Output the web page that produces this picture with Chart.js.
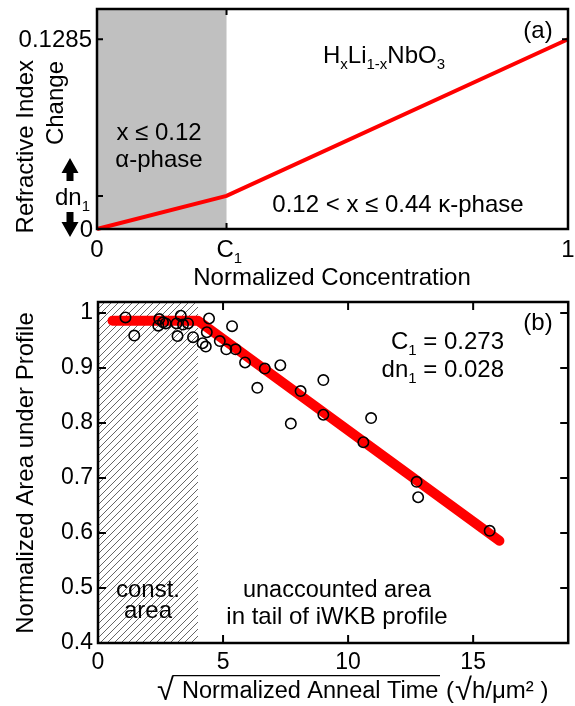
<!DOCTYPE html>
<html>
<head>
<meta charset="utf-8">
<script src="https://cdn.jsdelivr.net/npm/chart.js@4/dist/chart.umd.min.js"></script>
<style>
  html, body { margin: 0; padding: 0; background: #fff; overflow: hidden; }
  #wrap { position: relative; width: 575px; height: 706px; }
  canvas { position: absolute; left: 0; }
  #panel-a { top: 0; }
  #panel-b { top: 270px; }
</style>
</head>
<body>
<div id="wrap">
  <canvas id="panel-a" width="575" height="290"></canvas>
  <canvas id="panel-b" width="575" height="436"></canvas>
</div>
<script>
// panel (a): index change vs normalized concentration
const concA = [0, 0.275, 1];
const indexA = [0, 0.0224, 0.1285];
const xTicksA = [0, 0.275, 1];
const yTicksA = [0, 0.0224, 0.1285];

// panel (b): normalized area vs sqrt anneal time
const annealT = [1.10, 1.45, 2.45, 2.41, 2.60, 2.71, 3.14, 3.31, 3.18, 3.40, 3.60, 3.80,
    4.18, 4.31, 4.44, 4.35, 4.87, 5.36, 5.13, 5.50, 5.88, 6.67, 6.37, 7.29, 8.10, 7.71,
    9.01, 9.01, 10.92, 10.61, 12.74, 12.80, 15.66];
const areaVals = [0.992, 0.959, 0.989, 0.977, 0.983, 0.981, 0.981, 0.995, 0.958, 0.979, 0.981, 0.956,
    0.945, 0.939, 0.990, 0.965, 0.949, 0.976, 0.934, 0.934, 0.910, 0.899, 0.864, 0.905, 0.858, 0.799,
    0.878, 0.815, 0.809, 0.765, 0.693, 0.665, 0.604];
const fitT = [0.58, 4.0, 16.05];
const fitArea = [0.986, 0.986, 0.586];
const constAreaEnd = 4;
const xTicksB = [0, 5, 10, 15];
const yTicksB = [0.4, 0.5, 0.6, 0.7, 0.8, 0.9, 1];

const FAMILY = '"Liberation Sans", Arial, Helvetica, sans-serif';
const FS = 24;
const SUB = 15;
const font = (s) => s + 'px ' + FAMILY;

// draws text made of normal / subscript parts
const drawRich = (ctx, parts, x, y, align) => {
    const widths = parts.map(([t, k]) => {
        ctx.font = font(k === 'n' ? FS : SUB);
        return ctx.measureText(t).width;
    });
    const total = widths.reduce((a, b) => a + b, 0);
    let cx = align === 'center' ? x - total / 2 : align === 'right' ? x - total : x;
    ctx.textAlign = 'left';
    ctx.textBaseline = 'alphabetic';
    parts.forEach(([t, k], i) => {
        ctx.font = font(k === 'n' ? FS : SUB);
        ctx.fillText(t, cx, k === 's' ? y + 6 : y);
        cx += widths[i];
    });
    return total;
};

const text = (ctx, t, x, y, align, size) => {
    ctx.font = font(size || FS);
    ctx.textAlign = align || 'left';
    ctx.textBaseline = 'alphabetic';
    ctx.fillText(t, x, y);
    return ctx.measureText(t).width;
};

const vText = (ctx, t, x, y, align) => {
    ctx.save();
    ctx.translate(x, y);
    ctx.rotate(-Math.PI / 2);
    text(ctx, t, 0, 0, align);
    ctx.restore();
};

// radical sign sized so it spans `top` .. `bottom`; returns its box
const radical = (ctx, x, top, bottom) => {
    ctx.font = font(100);
    const m = ctx.measureText('\u221a');
    const h100 = m.actualBoundingBoxAscent + m.actualBoundingBoxDescent;
    const size = 100 * (bottom - top) / h100;
    ctx.font = font(size);
    const mm = ctx.measureText('\u221a');
    const base = top + mm.actualBoundingBoxAscent;
    ctx.textAlign = 'left';
    ctx.textBaseline = 'alphabetic';
    ctx.fillText('\u221a', x - mm.actualBoundingBoxLeft, base);
    return { right: x + mm.actualBoundingBoxLeft + mm.actualBoundingBoxRight, top };
};

const drawFrame = (ctx, area) => {
    ctx.save();
    ctx.strokeStyle = '#000';
    ctx.lineWidth = 2.5;
    ctx.strokeRect(area.left, area.top, area.right - area.left, area.bottom - area.top);
    ctx.restore();
};

const arrow = (ctx, x, tipY, baseY, endY) => {
    ctx.beginPath();
    ctx.moveTo(x, tipY);
    ctx.lineTo(x + 8.5, baseY);
    ctx.lineTo(x + 3.5, baseY);
    ctx.lineTo(x + 3.5, endY);
    ctx.lineTo(x - 3.5, endY);
    ctx.lineTo(x - 3.5, baseY);
    ctx.lineTo(x - 8.5, baseY);
    ctx.closePath();
    ctx.fill();
};

const panelAPlugin = {
    id: 'panelA',
    beforeDatasetsDraw(chart) {
        const { ctx, chartArea: a, scales: { x } } = chart;
        ctx.save();
        ctx.fillStyle = '#c0c0c0';
        ctx.fillRect(a.left, a.top, x.getPixelForValue(concA[1]) - a.left, a.bottom - a.top);
        ctx.restore();
    },
    afterDraw(chart) {
        const { ctx, chartArea: a, scales: { x, y } } = chart;
        drawFrame(ctx, a);
        ctx.save();
        ctx.fillStyle = '#000';
        ctx.strokeStyle = '#000';
        ctx.lineWidth = 2;
        // inward ticks
        ctx.beginPath();
        const xc = x.getPixelForValue(xTicksA[1]);
        ctx.moveTo(xc, a.bottom); ctx.lineTo(xc, a.bottom - 6);
        ctx.moveTo(xc, a.top); ctx.lineTo(xc, a.top + 6);
        [yTicksA[1], yTicksA[2]].forEach(v => {
            const py = y.getPixelForValue(v);
            ctx.moveTo(a.left, py); ctx.lineTo(a.left + 6, py);
        });
        const pr = y.getPixelForValue(yTicksA[2]);
        ctx.moveTo(a.right, pr); ctx.lineTo(a.right - 6, pr);
        ctx.stroke();

        // tick labels
        text(ctx, '0.1285', a.left - 5, y.getPixelForValue(yTicksA[2]) + 8, 'right');
        text(ctx, '0', a.left - 4, y.getPixelForValue(yTicksA[0]) + 8, 'right');
        const pdn = y.getPixelForValue(yTicksA[1]);
        drawRich(ctx, [['dn', 'n'], ['1', 's']], 55, pdn + 9, 'left');
        arrow(ctx, 70, pdn - 38, pdn - 23, pdn - 15);
        arrow(ctx, 70, pdn + 41, pdn + 26, pdn + 16);

        const tb = a.bottom + 28;
        text(ctx, '0', x.getPixelForValue(xTicksA[0]), tb, 'center');
        drawRich(ctx, [['C', 'n'], ['1', 's']], xc - 10, tb, 'left');
        text(ctx, '1', x.getPixelForValue(xTicksA[2]), tb, 'center');

        // axis titles
        text(ctx, 'Normalized Concentration', 332, 285, 'center');
        vText(ctx, 'Refractive Index', 33, 60, 'right');
        vText(ctx, 'Change', 63, 61, 'right');

        // annotations
        text(ctx, '(a)', 538, 38, 'center');
        drawRich(ctx, [['H', 'n'], ['x', 's'], ['Li', 'n'], ['1-x', 's'], ['NbO', 'n'], ['3', 's']], 323, 63, 'left');
        text(ctx, 'x \u2264 0.12', 159, 140, 'center');
        text(ctx, '\u03b1-phase', 159, 167, 'center');
        text(ctx, '0.12 < x \u2264 0.44 \u03ba-phase', 398, 212, 'center');
        ctx.restore();
    }
};

const panelBPlugin = {
    id: 'panelB',
    beforeDatasetsDraw(chart) {
        const { ctx, chartArea: a, scales: { x } } = chart;
        const xr = x.getPixelForValue(constAreaEnd);
        const h = a.bottom - a.top;
        ctx.save();
        ctx.beginPath();
        ctx.rect(a.left, a.top, xr - a.left, h);
        ctx.clip();
        ctx.strokeStyle = '#555';
        ctx.lineWidth = 0.9;
        ctx.beginPath();
        for (let k = -h; k < xr - a.left + 7; k += 7) {
            ctx.moveTo(a.left + k, a.bottom);
            ctx.lineTo(a.left + k + h, a.top);
        }
        ctx.stroke();
        ctx.restore();
    },
    afterDraw(chart) {
        const { ctx, chartArea: a, scales: { x, y } } = chart;
        drawFrame(ctx, a);
        ctx.save();
        ctx.strokeStyle = '#000';
        ctx.fillStyle = '#000';
        ctx.lineWidth = 2;
        ctx.beginPath();
        xTicksB.slice(1).forEach(v => {
            const px = x.getPixelForValue(v);
            ctx.moveTo(px, a.bottom); ctx.lineTo(px, a.bottom - 8);
            ctx.moveTo(px, a.top); ctx.lineTo(px, a.top + 8);
        });
        yTicksB.slice(1).forEach(v => {
            const py = y.getPixelForValue(v);
            ctx.moveTo(a.left, py); ctx.lineTo(a.left + 8, py);
            ctx.moveTo(a.right, py); ctx.lineTo(a.right - 8, py);
        });
        ctx.stroke();

        // y title
        vText(ctx, 'Normalized Area under Profile', 33, 203, 'center');

        // x title with root sign and overline
        const base = 428;
        const r1 = radical(ctx, 157, 405, 430);
        ctx.lineWidth = 1.3;
        ctx.beginPath();
        ctx.moveTo(r1.right - 1.5, r1.top + 0.7);
        ctx.lineTo(440, r1.top + 0.7);
        ctx.stroke();
        const w = text(ctx, 'Normalized Anneal Time', 182, base, 'left', 23.5);
        let cx = Math.max(446, 182 + w + 6);
        cx += text(ctx, '(', cx, base, 'left');
        const r2 = radical(ctx, cx + 1, 405, 430);
        cx = r2.right;
        text(ctx, 'h/\u03bcm\u00b2 )', cx, base, 'left');

        // annotations
        text(ctx, '(b)', 538, 60, 'center');
        drawRich(ctx, [['C', 'n'], ['1', 's'], [' = 0.273', 'n']], 504, 79, 'right');
        drawRich(ctx, [['dn', 'n'], ['1', 's'], [' = 0.028', 'n']], 504, 107, 'right');
        text(ctx, 'const.', 148, 327, 'center');
        text(ctx, 'area', 148, 348, 'center');
        text(ctx, 'unaccounted area', 337, 327, 'center', 23.5);
        text(ctx, 'in tail of iWKB profile', 337, 354, 'center');
        ctx.restore();
    }
};

const chartA = new Chart(document.getElementById('panel-a'), {
    type: 'scatter',
    data: {
        datasets: [{
            data: concA.map((c, i) => ({ x: c, y: indexA[i] })),
            showLine: true,
            borderColor: '#ff0000',
            borderWidth: 4,
            pointRadius: 0,
            clip: false
        }]
    },
    options: {
        responsive: false,
        animation: false,
        devicePixelRatio: 1,
        layout: { padding: { left: 0, right: 7, top: 9, bottom: 0 } },
        plugins: { legend: { display: false }, tooltip: { enabled: false } },
        scales: {
            x: {
                type: 'linear', min: 0, max: 1,
                grid: { display: false, drawTicks: false },
                border: { display: false },
                ticks: { display: false },
                afterFit: (s) => { s.height = 61; }
            },
            y: {
                type: 'linear', min: 0, max: 0.149,
                grid: { display: false, drawTicks: false },
                border: { display: false },
                ticks: { display: false },
                afterFit: (s) => { s.width = 97; }
            }
        }
    },
    plugins: [panelAPlugin]
});

const chartB = new Chart(document.getElementById('panel-b'), {
    type: 'scatter',
    data: {
        datasets: [{
            data: annealT.map((t, i) => ({ x: t, y: areaVals[i] })),
            pointRadius: 5.2,
            pointBorderWidth: 1.6,
            pointBorderColor: '#000',
            pointBackgroundColor: 'rgba(0,0,0,0)'
        }, {
            data: fitT.map((t, i) => ({ x: t, y: fitArea[i] })),
            showLine: true,
            borderColor: '#ff0000',
            borderWidth: 10,
            borderCapStyle: 'round',
            borderJoinStyle: 'round',
            pointRadius: 0
        }]
    },
    options: {
        responsive: false,
        animation: false,
        devicePixelRatio: 1,
        layout: { padding: { left: 0, right: 6, top: 32, bottom: 0 } },
        plugins: { legend: { display: false }, tooltip: { enabled: false } },
        scales: {
            x: {
                type: 'linear', min: 0, max: 18.8,
                grid: { display: false, drawTicks: false },
                border: { display: false },
                afterBuildTicks: (s) => { s.ticks = xTicksB.map(v => ({ value: v })); },
                ticks: {
                    color: '#000', padding: 6, maxRotation: 0,
                    font: { family: FAMILY, size: 23 },
                    callback: (v) => String(v)
                },
                afterFit: (s) => { s.height = 63; }
            },
            y: {
                type: 'linear', min: 0.4, max: 1.02,
                grid: { display: false, drawTicks: false },
                border: { display: false },
                afterBuildTicks: (s) => { s.ticks = yTicksB.map(v => ({ value: v })); },
                ticks: {
                    color: '#000', padding: 5,
                    font: { family: FAMILY, size: 23 },
                    callback: (v) => String(v)
                },
                afterFit: (s) => { s.width = 98; }
            }
        }
    },
    plugins: [panelBPlugin]
});
</script>
</body>
</html>
